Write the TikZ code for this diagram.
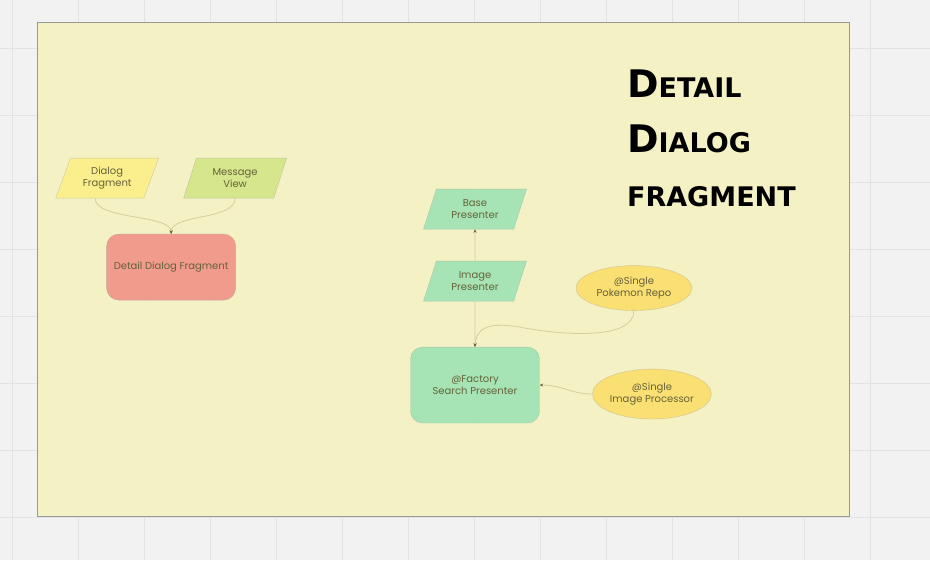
\documentclass[tikz,border=0pt]{standalone}
\usepackage{fontspec}
\setmainfont{Poppins}
\newfontfamily\titlefont{DejaVu Sans}
\usetikzlibrary{arrows.meta,shapes.geometric}

\definecolor{paper}{HTML}{F2F2F2}
\definecolor{gridln}{HTML}{E3E3E3}
\definecolor{frame}{HTML}{F5F1C1}
\definecolor{ink}{HTML}{66623A}
\definecolor{wire}{HTML}{D6CDA0}
\definecolor{yel}{HTML}{FBEE8C}
\definecolor{lime}{HTML}{D5E68D}
\definecolor{salmon}{HTML}{F09B8B}
\definecolor{mint}{HTML}{A6E4B5}
\definecolor{gold}{HTML}{FADF73}

\begin{document}
\begin{tikzpicture}[x=1pt,y=-1pt,font=\fontsize{10}{11.5}\selectfont,text=ink,
  para/.style={trapezium,trapezium left angle=58,trapezium right angle=122,
    draw=#1!70!black!60,fill=#1,minimum width=103pt,minimum height=40pt,
    inner sep=1pt,align=center,trapezium stretches body},
  rbox/.style={rectangle,rounded corners=12pt,draw=#1!70!black!60,fill=#1,
    minimum width=129pt,minimum height=66pt,align=center},
  oval/.style={ellipse,draw=#1!70!black!60,fill=#1,inner sep=0pt,align=center},
  wire/.style={draw=wire,line width=0.8pt,-{Stealth[length=3.5pt,width=3pt,color=ink]}},
  big/.style={font=\titlefont\bfseries\fontsize{38}{40}\selectfont},
  title/.style={anchor=base west,inner sep=0pt,text=black}]
  % canvas
  \fill[paper] (0,0) rectangle (930,560);
  \foreach \gx in {12,78,...,900} \draw[gridln] (\gx,0) -- (\gx,560);
  \foreach \gy in {48,115,...,560} \draw[gridln] (0,\gy) -- (930,\gy);
  \useasboundingbox (0,0) rectangle (930,560);
  \filldraw[fill=frame,fill opacity=0.93,draw=black!40,line width=0.8pt] (37,22) rectangle (850,516);

  % heading
  \node[title,big] (t1) at (627,97)
    {D{\fontsize{27}{30}\selectfont ETAIL}};
  \node[title,big] (t2) at (627,152)
    {D{\fontsize{27}{30}\selectfont IALOG}};
  \node[title,big] (t3) at (627,206)
    {\fontsize{27}{30}\selectfont FRAGMENT};

  \node[para=yel] (df) at (107,178) {Dialog\\Fragment};
  \node[para=lime] (mv) at (235,178) {Message\\View};
  \node[rbox=salmon] (ddf) at (171,267) {Detail Dialog Fragment};

  \node[para=mint] (bp) at (475,209) {Base\\Presenter};
  \node[para=mint] (ip) at (475,281) {Image\\Presenter};
  \node[rbox=mint,minimum height=76pt] (fsp) at (475,385) {@Factory\\Search Presenter};
  \node[oval=gold,minimum width=116pt,minimum height=45pt] (pr) at (634,288) {@Single\\Pokemon Repo};
  \node[oval=gold,minimum width=119pt,minimum height=50pt] (ipr) at (652,394) {@Single\\Image Processor};

  \draw[wire] ([xshift=-12pt]df.south) .. controls +(0,22) and +(0,-20) .. (ddf.north);
  \draw[wire] (mv.south) .. controls +(0,22) and +(0,-20) .. (ddf.north);
  \draw[wire] (ip) -- (bp);
  \draw[wire] (ip) -- (fsp);
  \draw[wire] (pr.south) .. controls +(0,28) and (570,336) .. (525,328)
    .. controls (485,320) and (476,330) .. (fsp.north);
  \draw[wire] (ipr.west) .. controls (572,394) and (562,385) .. (fsp.east);
\end{tikzpicture}
\end{document}
